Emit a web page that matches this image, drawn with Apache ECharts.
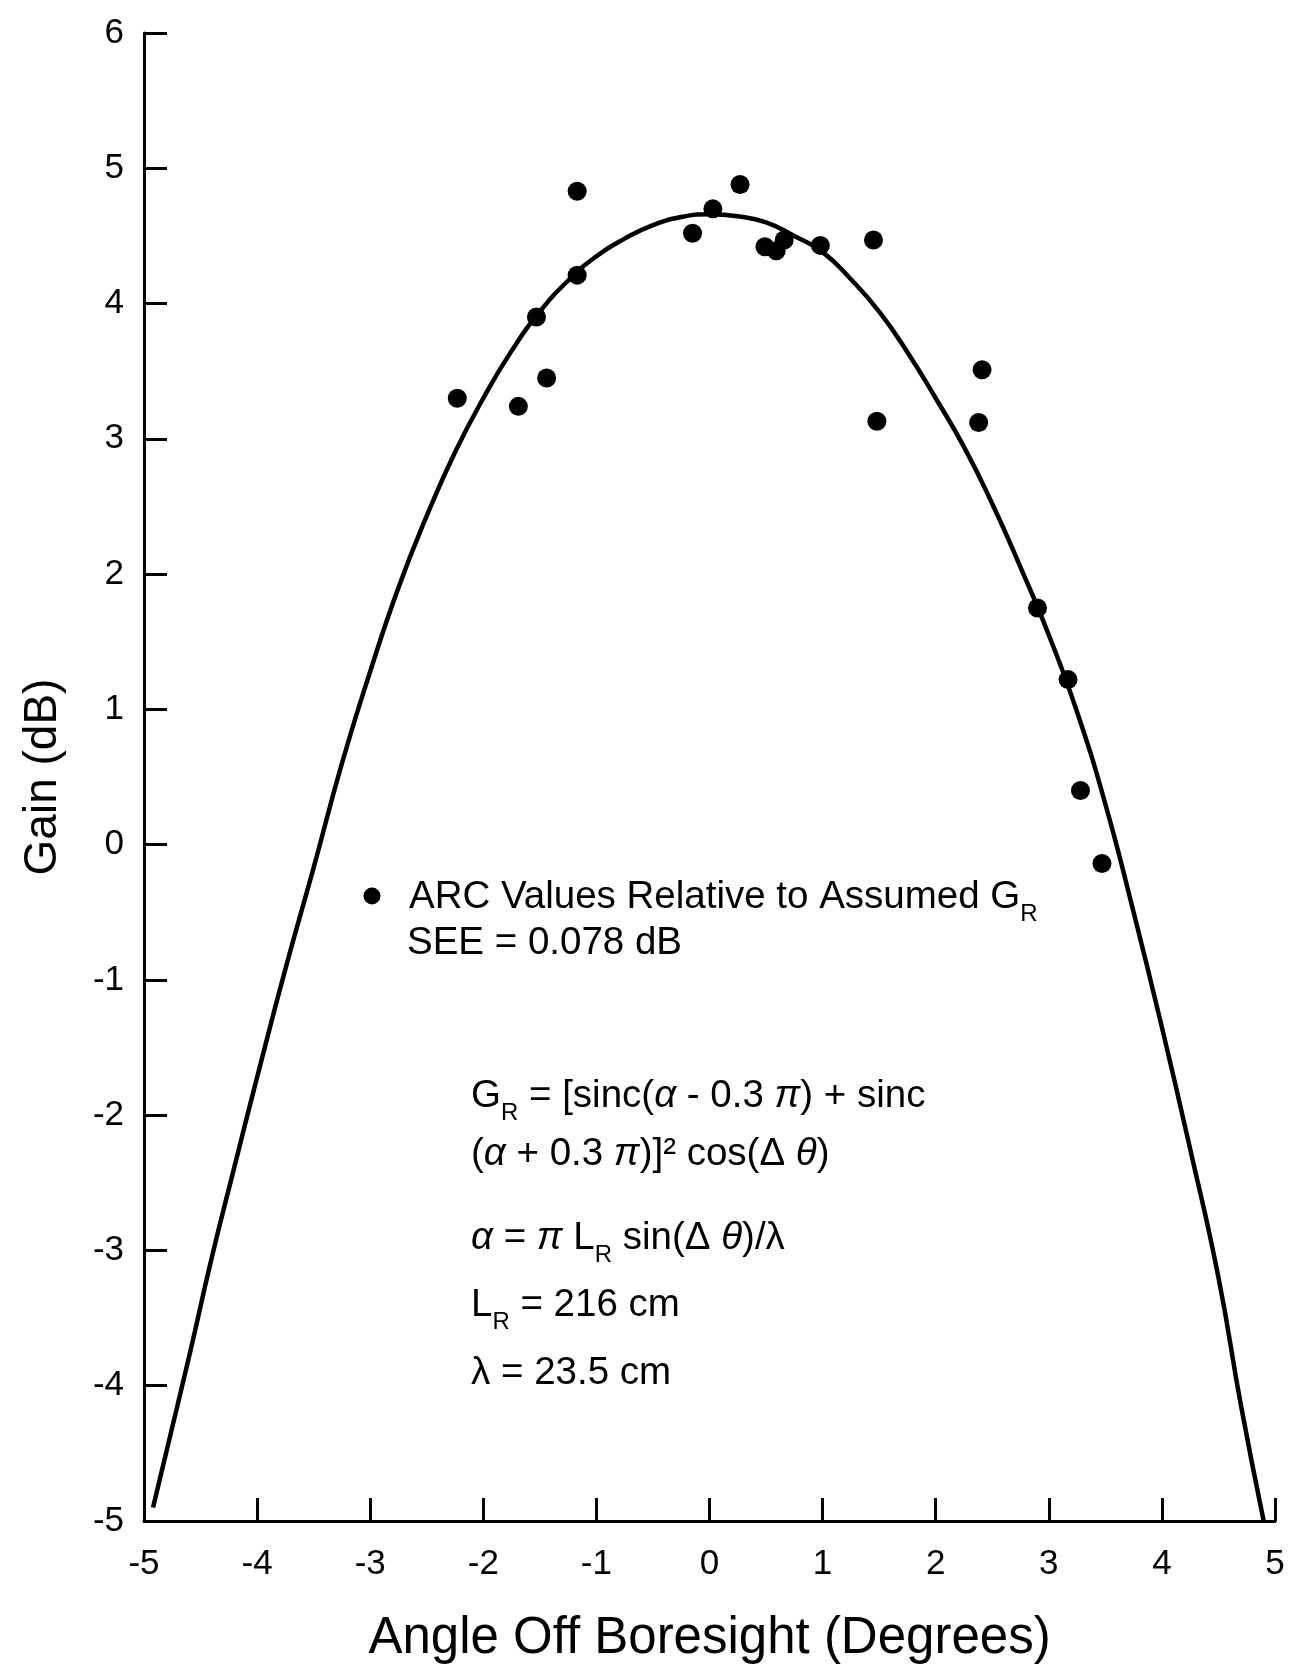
<!DOCTYPE html>
<html>
<head>
<meta charset="utf-8">
<script src="https://cdn.jsdelivr.net/npm/echarts@6/dist/echarts.min.js"></script>
<style>
html, body { margin: 0; padding: 0; background: #fff; }
#container { width: 1289px; height: 1666px; }
</style>
</head>
<body>
<div id="container"></div>
<script>
var FONT = '"Liberation Sans", Arial, Helvetica, sans-serif';

// ARC measurements (degrees off boresight, dB)
var arcAngle = [-2.23, -1.69, -1.44, -1.53, -1.17, -1.17, -0.15, 0.03, 0.27, 0.49, 0.59, 0.66, 0.98, 1.45, 1.48, 2.38, 2.41, 2.90, 3.17, 3.28, 3.47];
var arcGain  = [ 3.30,  3.24,  3.45,  3.90,  4.21,  4.83,  4.52, 4.70, 4.88, 4.42, 4.39, 4.47, 4.43, 4.47, 3.13, 3.12, 3.51, 1.75, 1.22, 0.40, -0.14];

// assumed G_R curve
var curveAngle = [-4.92, -4.8, -4.6, -4.4, -4.2, -4.0, -3.75, -3.5, -3.25, -3.0, -2.75, -2.5, -2.25, -2.0, -1.75, -1.5, -1.25, -1.0, -0.75, -0.5, -0.25, 0, 0.25, 0.5, 0.75, 1.0, 1.25, 1.5, 1.75, 2.0, 2.25, 2.5, 2.75, 3.0, 3.25, 3.5, 3.75, 4.0, 4.25, 4.5, 4.7, 4.9];
var curveGain  = [-4.90, -4.48, -3.78, -3.05, -2.38, -1.72, -0.92, -0.17, 0.60, 1.28, 1.90, 2.43, 2.90, 3.30, 3.65, 3.94, 4.17, 4.35, 4.48, 4.58, 4.64, 4.66, 4.645, 4.60, 4.50, 4.38, 4.18, 3.94, 3.64, 3.30, 2.94, 2.52, 2.05, 1.55, 0.98, 0.30, -0.50, -1.35, -2.25, -3.20, -4.15, -5.00];

var xRange = [-5, 5];
var yRange = [-5, 6];

var legendLines = [
    'ARC Values Relative to Assumed G{sub|R}',
    'SEE = 0.078 dB'
];
var formulaLines = [
    'G{sub|R} = [sinc({it|α} - 0.3 {it|π}) + sinc',
    '({it|α} + 0.3 {it|π})]² cos(Δ {it|θ})',
    '{it|α} = {it|π} L{sub|R} sin(Δ {it|θ})/λ',
    'L{sub|R} = 216 cm',
    'λ = 23.5 cm'
];

function pairs(xs, ys) {
    return xs.map(function (x, i) { return [x, ys[i]]; });
}

function textEl(str, x, y, size) {
    return {
        type: 'text',
        x: x,
        y: y,
        style: {
            text: str,
            fill: '#000',
            fontSize: size,
            fontFamily: FONT,
            verticalAlign: 'middle',
            rich: {
                sub: { fontSize: Math.round(size * 0.62), fontFamily: FONT, fill: '#000', padding: [34, 0, 0, 0] },
                it: { fontSize: size, fontFamily: FONT, fontStyle: 'italic', fill: '#000' }
            }
        }
    };
}

var graphics = [
    { type: 'circle', shape: { cx: 372, cy: 896, r: 8.5 }, style: { fill: '#000' } },
    textEl(legendLines[0], 409, 897, 38.5),
    textEl(legendLines[1], 407, 943, 38.5)
];
var formulaY = [1096, 1154, 1238, 1305, 1373];
formulaLines.forEach(function (line, i) {
    graphics.push(textEl(line, 471, formulaY[i], 38.5));
});

var axisCommon = {
    type: 'value',
    interval: 1,
    splitLine: { show: false },
    axisLine: { show: true, onZero: false, lineStyle: { color: '#000', width: 3 } },
    axisTick: { show: true, inside: true, length: 23, lineStyle: { color: '#000', width: 3 } }
};

var chart = echarts.init(document.getElementById('container'), null, { renderer: 'canvas' });

chart.setOption({
    backgroundColor: '#fff',
    animation: false,
    grid: { left: 144, right: 14, top: 33, bottom: 145, containLabel: false, outerBoundsMode: 'none' },
    xAxis: echarts.util.merge({
        min: xRange[0],
        max: xRange[1],
        name: 'Angle Off Boresight (Degrees)',
        nameLocation: 'middle',
        nameGap: 92,
        nameTextStyle: { fontSize: 51, fontFamily: FONT, color: '#000' },
        axisLabel: { fontSize: 35, fontFamily: FONT, color: '#000', margin: 26 }
    }, axisCommon),
    yAxis: echarts.util.merge({
        min: yRange[0],
        max: yRange[1],
        name: 'Gain (dB)',
        nameLocation: 'middle',
        nameGap: 78,
        nameRotate: 90,
        nameTextStyle: { fontSize: 46, fontFamily: FONT, color: '#000' },
        axisLabel: { fontSize: 35, fontFamily: FONT, color: '#000', margin: 20 }
    }, axisCommon),
    graphic: graphics,
    series: [
        {
            type: 'line',
            data: pairs(curveAngle, curveGain),
            smooth: true,
            symbol: 'none',
            lineStyle: { color: '#000', width: 4.5 },
            z: 2
        },
        {
            type: 'scatter',
            data: pairs(arcAngle, arcGain),
            symbol: 'circle',
            symbolSize: 19,
            itemStyle: { color: '#000', opacity: 1 },
            z: 3
        }
    ]
});
</script>
</body>
</html>
